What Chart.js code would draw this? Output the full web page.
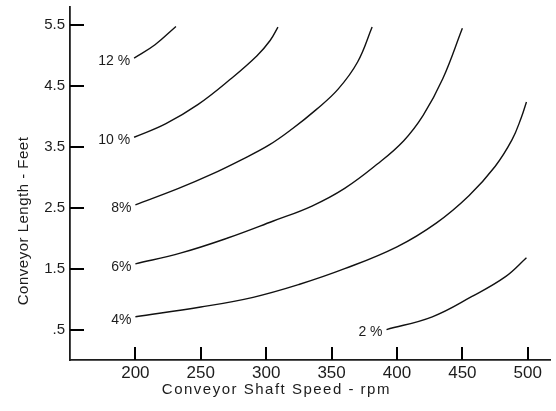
<!DOCTYPE html>
<html>
<head>
<meta charset="utf-8">
<title>Conveyor length vs shaft speed</title>
<script src="https://cdn.jsdelivr.net/npm/chart.js@4.4.1/dist/chart.umd.min.js"></script>
<style>
  html, body { margin: 0; padding: 0; background: #fff; }
  canvas { display: block; }
</style>
</head>
<body>
<canvas id="chart" width="556" height="411"></canvas>
<script>
// axis ticks
const rpmTicks = [200, 250, 300, 350, 400, 450, 500];
const lengthTicks = [0.5, 1.5, 2.5, 3.5, 4.5, 5.5];
const lengthTickLabels = ['.5', '1.5', '2.5', '3.5', '4.5', '5.5'];

// one curve per percentage, rpm -> conveyor length (ft)
const curveLabels = ['12 %', '10 %', '8%', '6%', '4%', '2 %'];

const rpm12 = [199, 215, 231];
const len12 = [4.96, 5.18, 5.48];

const rpm10 = [199, 223, 248, 273, 293, 303, 309];
const len10 = [3.66, 3.88, 4.20, 4.62, 5.00, 5.25, 5.47];

const rpm8 = [200, 233, 258, 281, 302, 320, 338, 355, 370, 381];
const len8 = [2.55, 2.82, 3.05, 3.29, 3.53, 3.80, 4.11, 4.45, 4.90, 5.47];

const rpm6 = [200, 235, 270, 305, 335, 360, 385, 405, 420, 435, 450];
const len6 = [1.58, 1.76, 2.00, 2.28, 2.53, 2.82, 3.22, 3.60, 4.02, 4.62, 5.45];

const rpm4 = [200, 250, 290, 325, 360, 400, 430, 455, 475, 488, 495, 499];
const len4 = [0.71, 0.87, 1.03, 1.24, 1.50, 1.86, 2.25, 2.70, 3.18, 3.62, 3.98, 4.24];

const rpm2 = [392, 427, 457, 483, 499];
const len2 = [0.50, 0.71, 1.04, 1.37, 1.68];

const curves = [
  [rpm12, len12], [rpm10, len10], [rpm8, len8],
  [rpm6, len6], [rpm4, len4], [rpm2, len2]
];

const FONT = '"Liberation Sans", Arial, sans-serif';
const INK = '#1c1c1c';

function toPoints(xs, ys) {
  return xs.map((x, i) => ({ x: x, y: ys[i] }));
}

// tick marks point into the plot, like the drafted original
const insideTicks = {
  id: 'insideTicks',
  afterDraw(chart) {
    const ctx = chart.ctx;
    const sx = chart.scales.x;
    const sy = chart.scales.y;
    const area = chart.chartArea;
    ctx.save();
    ctx.strokeStyle = '#000';
    ctx.lineWidth = 2;
    rpmTicks.forEach(v => {
      const px = Math.round(sx.getPixelForValue(v));
      ctx.beginPath();
      ctx.moveTo(px, area.bottom);
      ctx.lineTo(px, area.bottom - 13);
      ctx.stroke();
    });
    lengthTicks.forEach(v => {
      const py = Math.round(sy.getPixelForValue(v));
      ctx.beginPath();
      ctx.moveTo(area.left, py);
      ctx.lineTo(area.left + 14, py);
      ctx.stroke();
    });
    ctx.restore();
  }
};

// percentage label just left of where each curve starts
const curveTags = {
  id: 'curveTags',
  afterDatasetsDraw(chart) {
    const ctx = chart.ctx;
    ctx.save();
    ctx.fillStyle = INK;
    ctx.font = '14px ' + FONT;
    ctx.textAlign = 'right';
    ctx.textBaseline = 'middle';
    chart.data.datasets.forEach((ds, i) => {
      const first = chart.getDatasetMeta(i).data[0];
      ctx.fillText(curveLabels[i], first.x - 4, first.y + 3);
    });
    ctx.restore();
  }
};

// axis titles (the drafted titles sit off-centre)
const axisTitles = {
  id: 'axisTitles',
  afterDraw(chart) {
    const ctx = chart.ctx;
    const area = chart.chartArea;
    ctx.save();
    ctx.fillStyle = INK;
    ctx.textAlign = 'center';
    ctx.textBaseline = 'middle';

    ctx.font = '15px ' + FONT;
    ctx.letterSpacing = '1.5px';
    ctx.fillText('Conveyor Shaft Speed - rpm',
      area.left + (area.right - area.left) * 0.43, 390);

    ctx.letterSpacing = '0.5px';
    ctx.translate(24, area.top + (area.bottom - area.top) * 0.606);
    ctx.rotate(-Math.PI / 2);
    ctx.fillText('Conveyor Length - Feet', 0, 0);
    ctx.restore();
  }
};

new Chart(document.getElementById('chart'), {
  type: 'line',
  data: {
    datasets: curves.map(([xs, ys], i) => ({
      label: curveLabels[i],
      data: toPoints(xs, ys),
      borderColor: '#111',
      borderWidth: 1.4,
      pointRadius: 0,
      fill: false,
      tension: 0.4
    }))
  },
  options: {
    responsive: false,
    animation: false,
    layout: { padding: { top: 7, right: 6, left: 0, bottom: 0 } },
    plugins: {
      legend: { display: false },
      tooltip: { enabled: false }
    },
    scales: {
      x: {
        type: 'linear',
        min: 150,
        max: 517,
        afterBuildTicks: s => { s.ticks = rpmTicks.map(v => ({ value: v })); },
        afterFit: s => {
          s.height = 51;
          s.paddingLeft = 0;
          s.paddingRight = 0;
        },
        grid: { display: false, drawTicks: false },
        border: { display: true, color: INK, width: 1.8 },
        ticks: {
          color: INK,
          font: { family: FONT, size: 17 },
          padding: 3,
          maxRotation: 0,
          callback: v => String(v)
        }
      },
      y: {
        type: 'linear',
        min: 0,
        max: 5.8,
        afterBuildTicks: s => { s.ticks = lengthTicks.map(v => ({ value: v })); },
        afterFit: s => {
          s.width = 70;
          s.paddingTop = 0;
          s.paddingBottom = 0;
        },
        grid: { display: false, drawTicks: false },
        border: { display: true, color: INK, width: 1.8 },
        ticks: {
          color: INK,
          font: { family: FONT, size: 15 },
          padding: 5,
          callback: v => lengthTickLabels[lengthTicks.indexOf(v)]
        }
      }
    }
  },
  plugins: [insideTicks, curveTags, axisTitles]
});
</script>
</body>
</html>
